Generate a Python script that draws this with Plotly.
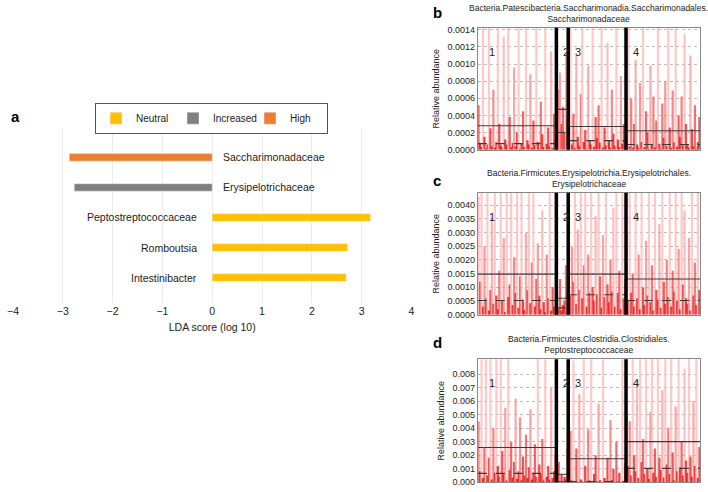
import plotly.graph_objects as go

# ---------------- Panel a: LDA scores ----------------
lda_taxa = ["Intestinibacter", "Romboutsia", "Peptostreptococcaceae",
            "Erysipelotrichaceae", "Saccharimonadaceae"]
lda_scores = [2.69, 2.72, 3.18, -2.77, -2.87]
lda_class = ["Neutral", "Neutral", "Neutral", "Increased", "High"]
class_order = ["Neutral", "Increased", "High"]
class_colors = ["#FFC000", "#7F7F7F", "#ED7D31"]
lda_ticks = [-4, -3, -2, -1, 0, 1, 2, 3, 4]
lda_ticktext = ["\u22124", "\u22123", "\u22122", "\u22121", "0", "1", "2", "3", "4"]

# ---------------- Panels b-d: per-sample relative abundance (ppm) ----------------
PPM = 1e-6
group_names = ["1", "2", "3", "4"]

b_g1 = [520, 80, 30, 2100, 150, 10, 60, 1700, 250, 40, 700, 20, 90, 1500, 300, 50, 15, 1320, 120, 60, 2400,
        380, 25, 80, 960, 40, 200, 1600, 10, 70, 450, 30, 1800, 110, 60, 880, 20, 340, 50, 1450, 90, 5, 560,
        180, 30, 2000, 70, 260, 40, 1150, 15, 420, 130]
b_g2 = [1300, 700, 900, 300, 500, 200, 1100, 400]
b_g3 = [350, 1500, 60, 420, 20, 1100, 150, 40, 650, 1600, 90, 230, 10, 980, 110, 60, 1900, 35, 380, 140, 520,
        80, 1450, 25, 260, 50, 1250, 100, 15, 700, 190, 45, 1700, 120, 30, 860, 70, 300, 20]
b_g4 = [120, 1500, 40, 600, 20, 300, 1050, 60, 15, 780, 90, 1700, 30, 450, 200, 10, 980, 55, 620, 25, 340,
        1600, 70, 5, 540, 140, 800, 45, 1450, 260, 20, 690, 85, 1900, 35, 400, 150, 620, 50, 1350, 300, 60,
        20, 1100, 240, 40, 520, 10, 90, 380]
b_mean = [280, 470, 270, 220]
b_median = [70, 200, 105, 60]

c_g1 = [4300, 1200, 5000, 300, 2500, 600, 4800, 150, 900, 3500, 400, 5200, 700, 200, 1600, 4600, 500, 2800,
        100, 5000, 650, 1100, 4900, 350, 2100, 800, 5100, 250, 1400, 4700, 550, 180, 3000, 900, 5000, 420,
        1900, 4500, 300, 1300, 2600, 700, 200, 3800, 450, 90, 2200, 600, 5000, 150, 1000, 300, 4400]
c_g2 = [900, 200, 1300, 150, 350, 500, 1800, 100]
c_g3 = [4800, 700, 2500, 1200, 5000, 400, 3100, 900, 4600, 600, 1800, 5200, 300, 2200, 800, 4900, 1000, 500,
        3600, 750, 4700, 1400, 250, 2900, 650, 5000, 1100, 450, 2000, 850, 3900, 300, 4500, 800, 1600, 200,
        5000, 600, 1300]
c_g4 = [3000, 500, 5000, 800, 1500, 300, 4600, 600, 2200, 200, 4900, 1000, 350, 2700, 700, 5100, 450, 1800,
        150, 4700, 900, 550, 3300, 250, 5000, 1200, 400, 2000, 650, 4800, 300, 1600, 850, 5200, 500, 2400,
        200, 4500, 1100, 3800, 600, 400, 2800, 150, 5000, 700, 1900, 350, 4600, 900]
c_mean = [1480, 600, 1480, 1300]
c_median = [520, 250, 730, 520]

d_g1 = [4500, 800, 9500, 300, 2600, 10000, 500, 1800, 9800, 200, 4000, 700, 9600, 1200, 400, 10000, 2300,
        600, 5500, 150, 9400, 900, 3000, 350, 1500, 6200, 250, 800, 4800, 100, 1900, 500, 3500, 300, 1100,
        5400, 200, 700, 2800, 400, 9700, 1300, 600, 3200, 150, 9500, 400, 1200, 200, 7000, 300, 800, 2100]
d_g2 = [100, 1500, 0, 600, 0, 400, 200, 2500]
d_g3 = [4200, 3800, 100, 9000, 50, 2500, 0, 6500, 200, 30, 9800, 1200, 0, 3900, 80, 9500, 0, 600, 2000, 10,
        5800, 150, 0, 9600, 300, 40, 1800, 0, 4600, 90, 1000, 0, 3000, 60, 700, 0, 9200, 20, 1500]
d_g4 = [9800, 1200, 4500, 500, 9600, 2000, 800, 7500, 300, 9900, 1500, 3200, 600, 9700, 1000, 250, 5200,
        9500, 700, 2500, 400, 9800, 1800, 900, 6800, 350, 9600, 1300, 4000, 600, 9900, 2200, 150, 5600, 800,
        9700, 1100, 3000, 500, 8400, 1600, 700, 9500, 1900, 400, 6000, 1200, 9800, 300, 2600]
d_mean = [2560, 580, 1730, 3000]
d_median = [650, 30, 40, 1020]

b_title = "Bacteria.Patescibacteria.Saccharimonadia.Saccharimonadales.<br>Saccharimonadaceae"
c_title = "Bacteria.Firmicutes.Erysipelotrichia.Erysipelotrichales.<br>Erysipelotrichaceae"
d_title = "Bacteria.Firmicutes.Clostridia.Clostridiales.<br>Peptostreptococcaceae"

b_ticks = [0.0, 0.0002, 0.0004, 0.0006, 0.0008, 0.0010, 0.0012, 0.0014]
c_ticks = [0.0, 0.0005, 0.0010, 0.0015, 0.0020, 0.0025, 0.0030, 0.0035, 0.0040]
d_ticks = [0.0, 0.001, 0.002, 0.003, 0.004, 0.005, 0.006, 0.007, 0.008]

panels = [
    dict(letter="b", groups=[b_g1, b_g2, b_g3, b_g4], mean=b_mean, median=b_median, title=b_title,
         ticks=b_ticks, fmt=".4f", ymax=0.001425, dom=[0.697, 0.949], ax="2", ly=0.980),
    dict(letter="c", groups=[c_g1, c_g2, c_g3, c_g4], mean=c_mean, median=c_median, title=c_title,
         ticks=c_ticks, fmt=".4f", ymax=0.00445, dom=[0.356, 0.608], ax="3", ly=0.634),
    dict(letter="d", groups=[d_g1, d_g2, d_g3, d_g4], mean=d_mean, median=d_median, title=d_title,
         ticks=d_ticks, fmt=".3f", ymax=0.0091, dom=[0.010, 0.264], ax="4", ly=0.299),
]

BAR_SCALE = [[0.0, "#e00000"], [0.25, "#ee3030"], [0.6, "#f88a8a"], [1.0, "#ffbcbc"]]

FONT = "Liberation Sans, Arial, sans-serif"
fig = go.Figure()

# ---- panel a traces
for cname, ccol in zip(class_order, class_colors):
    xs = [s for s, c in zip(lda_scores, lda_class) if c == cname]
    ys = [t for t, c in zip(lda_taxa, lda_class) if c == cname]
    fig.add_trace(go.Bar(x=xs, y=ys, orientation="h", name=cname, marker_color=ccol,
                         width=0.25, xaxis="x", yaxis="y", showlegend=True))

annotations = []
for t, s in zip(lda_taxa, lda_scores):
    if s < 0:
        annotations.append(dict(x=0, y=t, xref="x", yref="y", text=t, showarrow=False,
                                xanchor="left", xshift=9, font=dict(size=10.5, color="#222")))
    else:
        annotations.append(dict(x=0, y=t, xref="x", yref="y", text=t, showarrow=False,
                                xanchor="right", xshift=-13, font=dict(size=10.5, color="#222")))

annotations.append(dict(x=0.004, y=0.766, xref="paper", yref="paper", text="<b>a</b>", showarrow=False,
                        xanchor="left", yanchor="middle", font=dict(size=15, color="#000")))

shapes = []
layout_axes = {}

for p in panels:
    ax = p["ax"]
    xa, ya = "x" + ax, "y" + ax
    allvals = []
    starts = []
    for g in p["groups"]:
        starts.append(len(allvals))
        allvals.extend(g)
    n = len(allvals)
    yv = [v * PPM for v in allvals]
    fig.add_trace(go.Bar(x=list(range(n)), y=yv, width=1.5,
                         marker=dict(color=yv, colorscale=BAR_SCALE, cmin=0, cmax=p["ymax"],
                                     showscale=False, opacity=0.8, line=dict(width=0)),
                         xaxis=xa, yaxis=ya, showlegend=False))
    for gi, g in enumerate(p["groups"]):
        x0 = starts[gi] - 0.5
        x1 = starts[gi] + len(g) - 0.5
        fig.add_trace(go.Scatter(x=[x0, x1], y=[p["mean"][gi] * PPM] * 2, mode="lines",
                                 line=dict(color="#3a3a3a", width=1.1), xaxis=xa, yaxis=ya,
                                 showlegend=False))
        fig.add_trace(go.Scatter(x=[x0, x1], y=[p["median"][gi] * PPM] * 2, mode="lines",
                                 line=dict(color="#3a3a3a", width=1.1, dash="dash"), xaxis=xa, yaxis=ya,
                                 showlegend=False))
        annotations.append(dict(x=x0, y=0.87, xref=xa, yref=ya + " domain", text=group_names[gi],
                                showarrow=False, xanchor="left", xshift=5 if gi else 9,
                                font=dict(size=11, color="#222")))
        if gi > 0:
            shapes.append(dict(type="line", x0=x0, x1=x0, y0=0, y1=1, xref=xa, yref=ya + " domain",
                               line=dict(color="#000", width=3.5), layer="above"))
    layout_axes["xaxis" + ax] = dict(domain=[0.675, 0.993], anchor=ya, range=[-0.5, n - 0.5],
                                     showticklabels=False, ticks="", showgrid=False, zeroline=False,
                                     showline=True, mirror=True, linecolor="#888", linewidth=1)
    layout_axes["yaxis" + ax] = dict(domain=p["dom"], anchor=xa, range=[0, p["ymax"]],
                                     tickvals=p["ticks"], tickformat=p["fmt"], ticks="",
                                     tickfont=dict(size=9, color="#222"),
                                     showgrid=True, gridcolor="#bbb", griddash="dot", gridwidth=0.8,
                                     zeroline=False, showline=True, mirror=True, linecolor="#888",
                                     linewidth=1,
                                     title=dict(text="Relative abundance", font=dict(size=9, color="#222"),
                                                standoff=6))
    top = p["dom"][1]
    annotations.append(dict(x=0.834, y=top + 0.004, xref="paper", yref="paper", text=p["title"],
                            showarrow=False, xanchor="center", yanchor="bottom", align="center",
                            font=dict(size=8.5, color="#222")))
    annotations.append(dict(x=0.608, y=p["ly"], xref="paper", yref="paper",
                            text="<b>" + p["letter"] + "</b>", showarrow=False, xanchor="left",
                            yanchor="middle", font=dict(size=15, color="#000")))

fig.update_layout(
    width=708, height=492, margin=dict(l=0, r=0, t=0, b=0),
    paper_bgcolor="white", plot_bgcolor="white",
    font=dict(family=FONT, color="#222"),
    barmode="overlay",
    xaxis=dict(domain=[0.010, 0.580], anchor="y", range=[-4, 4], tickvals=lda_ticks, ticktext=lda_ticktext,
               showgrid=True, gridcolor="#ececec", gridwidth=1, zeroline=False, showline=False,
               ticks="", tickfont=dict(size=10.5, color="#222"), ticklabeloverflow="allow",
               title=dict(text="LDA score (log 10)", font=dict(size=10.5, color="#222"), standoff=8)),
    yaxis=dict(domain=[0.380, 0.740], anchor="x", type="category", categoryorder="array",
               categoryarray=lda_taxa, range=[-0.85, 4.95], showticklabels=False, ticks="",
               showgrid=False, zeroline=False, showline=False),
    legend=dict(orientation="h", x=0.294, y=0.762, xanchor="center", yanchor="middle",
                bordercolor="#555", borderwidth=1, font=dict(size=10, color="#222"),
                itemwidth=30, tracegroupgap=0, bgcolor="white", entrywidth=32, entrywidthmode="pixels"),
    annotations=annotations,
    shapes=shapes,
    **layout_axes,
)

fig.write_html("out.html", config={"displayModeBar": False},
               post_script="document.body.style.margin='0';document.body.style.overflow='hidden';")
